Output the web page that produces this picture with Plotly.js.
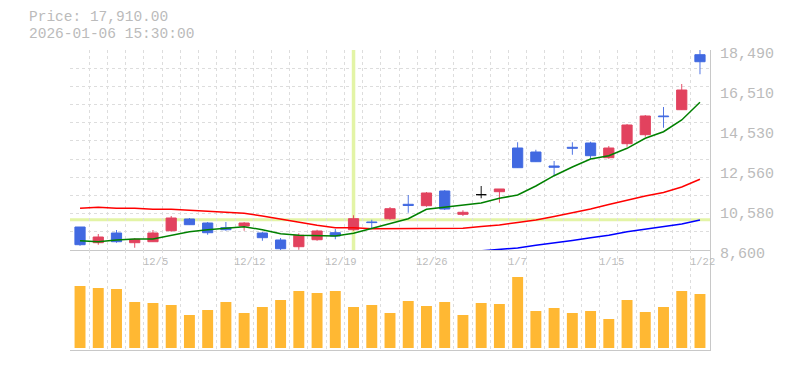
<!DOCTYPE html>
<html><head><meta charset="utf-8">
<script src="https://cdn.plot.ly/plotly-3.0.1.min.js"></script>
<style>html,body{margin:0;padding:0;background:#fff}#chart{width:785px;height:370px}</style>
</head><body><div id="chart"></div>
<script>
// ---- data ----
const dates = ['12/1','12/2','12/3','12/4','12/5','12/8','12/9','12/10','12/11','12/12','12/15','12/16','12/17','12/18','12/19','12/22','12/23','12/24','12/25','12/26','12/29','12/30','1/5','1/6','1/7','1/8','1/9','1/13','1/14','1/15','1/16','1/19','1/20','1/21','1/22'];
const labelDates = ['12/5','12/12','12/19','12/26','1/7','1/15','1/22'];
const openP  = [9737,8961,9441,8961,9010,9554,10133,9935,9703,9787,9441,9095,8763,9109,9455,9604,9985,10148,10860,10791,11518,10365,11335,11483,13644,13446,12754,13679,13891,13164,13857,14302,15226,15538,18257];
const highP  = [9737,9391,9589,9179,9589,10281,10182,9985,9985,9985,9490,9193,9426,9604,9638,10316,10098,10726,11320,11468,11567,10563,11765,11617,13926,13560,13001,13926,13956,13743,14831,15276,15671,16809,18490];
const lowP   = [8813,8862,8961,8714,9010,9505,9851,9357,9554,9554,9060,8600,8615,9060,9129,9554,9653,10098,10444,10741,10578,10281,11157,10939,12670,12967,12244,13313,13100,13115,13708,14203,14648,15538,17289];
const closeP = [8862,9243,9010,9129,9441,10182,9851,9455,9604,9935,9208,8664,9327,9540,9292,10148,9955,10642,10800,11419,10627,10464,11335,11617,12670,12967,12690,13629,13263,13644,14781,15226,15190,16512,17910];
const maShort = [9060,9010,9095,9144,9144,9307,9505,9604,9673,9752,9604,9406,9327,9307,9292,9426,9673,9920,10148,10613,10712,10810,10924,11157,11320,11765,12274,12704,13100,13263,13629,14124,14450,15029,15904];
const maMid   = [10662,10712,10662,10662,10613,10613,10563,10514,10464,10415,10281,10118,9970,9821,9703,9703,9653,9653,9653,9653,9653,9673,9762,9836,9960,10084,10257,10430,10627,10850,11073,11270,11443,11715,12096];
const maLong  = [null,null,null,null,null,null,null,null,null,null,null,null,null,null,null,null,null,null,null,null,null,null,8560,8625,8700,8837,8946,9070,9203,9327,9505,9624,9742,9886,10084];
const volume  = [62,60,59,46,45,43,33,38,46,35,41,48,57,55,57,41,43,35,47,42,46,33,45,44,71,37,40,35,37,29,48,36,41,57,54];
const priceTicks = [8600,10580,12560,14530,16510,18490];
const infoPrice = 'Price: 17,910.00';
const infoTime = '2026-01-06 15:30:00';
const crossIndex = 15;
const crossPrice = 10100;

// ---- styles ----
const UP = '#E2425E', DOWN = '#4169E1', EVEN = '#000000';
const GRID = '#DDDDDD', AXIS = '#C8C8C8', TXT = '#BBBBBB';
const MONO = 'Liberation Mono, DejaVu Sans Mono, monospace';

const idx = dates.map((d, i) => i);
const colors = openP.map((o, i) => closeP[i] > o ? UP : (closeP[i] < o ? DOWN : EVEN));
const bodyBase = openP.map((o, i) => Math.min(o, closeP[i]));
const bodyLen = openP.map((o, i) => Math.abs(closeP[i] - o));
const wickLen = highP.map((h, i) => h - lowP[i]);

const pMin = priceTicks[0], pMax = priceTicks[priceTicks.length - 1];
const gridY = Array.from({length: 12}, (_, k) => pMin + k * (pMax - pMin) / 11);
const gridX = Array.from({length: 35}, (_, k) => k - 0.5);
const xr = [-0.55, dates.length - 1 + 0.55];

const traces = [
  {type: 'bar', x: idx, y: volume, xaxis: 'x2', yaxis: 'y2', width: 0.6,
   marker: {color: '#FFB833', line: {width: 0}}, hoverinfo: 'skip'},
  {type: 'bar', x: idx, y: wickLen, base: lowP, width: 0.05,
   marker: {color: colors, line: {width: 0}}, hoverinfo: 'skip'},
  {type: 'bar', x: idx, y: bodyLen, base: bodyBase, width: 0.56,
   marker: {color: colors, line: {width: 1, color: colors}}, hoverinfo: 'skip'},
  {type: 'scatter', mode: 'lines', x: idx, y: maMid, line: {color: '#FF0000', width: 1.5}, hoverinfo: 'skip'},
  {type: 'scatter', mode: 'lines', x: idx, y: maLong, line: {color: '#0000FF', width: 1.5}, hoverinfo: 'skip'},
  {type: 'scatter', mode: 'lines', x: idx, y: maShort, line: {color: '#008000', width: 1.5}, hoverinfo: 'skip'},
  // carrier for the right-hand price labels
  {type: 'scatter', mode: 'markers', x: [idx[0]], y: [pMin], yaxis: 'y3', marker: {opacity: 0}, hoverinfo: 'skip'}
];

const annotations = labelDates.map(d => ({
  xref: 'x', yref: 'paper', x: dates.indexOf(d), y: (350 - 262) / 300,
  xanchor: 'left', yanchor: 'middle', xshift: -12, showarrow: false, text: d,
  font: {family: MONO, size: 10.5, color: TXT}
}));
annotations.push({xref: 'paper', yref: 'paper', x: -42 / 640, y: (350 - 17) / 300, xanchor: 'left', yanchor: 'middle',
  showarrow: false, text: infoPrice, borderpad: 0, font: {family: MONO, size: 14.5, color: TXT}});
annotations.push({xref: 'paper', yref: 'paper', x: -42 / 640, y: (350 - 34) / 300, xanchor: 'left', yanchor: 'middle',
  showarrow: false, text: infoTime, borderpad: 0, font: {family: MONO, size: 14.5, color: TXT}});

const gridAxisX = {range: xr, tickmode: 'array', tickvals: gridX, showticklabels: false, ticks: '',
  showgrid: true, gridcolor: GRID, griddash: '3px,3px', gridwidth: 1, zeroline: false,
  showline: true, linecolor: AXIS, linewidth: 1, fixedrange: true};

const layout = {
  width: 785, height: 370, margin: {l: 70, r: 75, t: 50, b: 20, pad: 0},
  paper_bgcolor: '#FFFFFF', plot_bgcolor: '#FFFFFF', showlegend: false, barmode: 'overlay',
  xaxis: Object.assign({}, gridAxisX, {anchor: 'y'}),
  xaxis2: Object.assign({}, gridAxisX, {anchor: 'y2'}),
  yaxis: {domain: [1/3, 1], range: [pMin, pMax], side: 'right', tickmode: 'array', tickvals: gridY,
    showticklabels: false, ticks: '', showgrid: true, gridcolor: GRID, griddash: '3px,3px', gridwidth: 1,
    zeroline: false, showline: true, linecolor: AXIS, linewidth: 1, fixedrange: true},
  yaxis3: {overlaying: 'y', range: [pMin, pMax], side: 'right', anchor: 'x', tickmode: 'array', tickvals: priceTicks,
    ticktext: priceTicks.map(v => v.toLocaleString('en-US')), ticks: '', showgrid: false, zeroline: false,
    showline: false, ticklabelstandoff: 9, ticklabelshift: 3,
    tickfont: {family: MONO, size: 15, color: TXT}, fixedrange: true},
  yaxis2: {domain: [0, 1/3], range: [-2, 98], side: 'right', showticklabels: false, ticks: '', showgrid: false,
    zeroline: false, showline: true, linecolor: AXIS, linewidth: 1, fixedrange: true},
  shapes: [
    {type: 'line', layer: 'between', xref: 'x', yref: 'y', x0: crossIndex, x1: crossIndex, y0: pMin, y1: pMax,
     line: {color: '#E3F4A6', width: 3.5}},
    {type: 'line', layer: 'between', xref: 'paper', yref: 'y', x0: 0, x1: 1, y0: crossPrice, y1: crossPrice,
     line: {color: '#E3F4A6', width: 3}}
  ],
  annotations: annotations
};

Plotly.newPlot('chart', traces, layout, {displayModeBar: false, staticPlot: true});
</script></body></html>
